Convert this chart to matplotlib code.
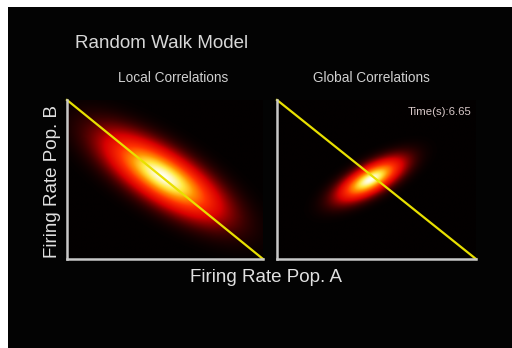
import numpy as np
import matplotlib
matplotlib.use('Agg')
import matplotlib.pyplot as plt
from matplotlib.patches import Rectangle
from matplotlib.colors import LinearSegmentedColormap

plt.rcParams['font.family'] = ['Liberation Sans', 'DejaVu Sans']

# panel data: gaussian blobs in normalised firing-rate space
panel_titles = ["Local Correlations", "Global Correlations"]
centre_a = [0.49, 0.47]
centre_b = [0.52, 0.50]
sigma_major = [0.23, 0.12]
sigma_minor = [0.09, 0.05]
angle_deg = [-40, 37]
time_label = "Time(s):6.65"

W, H = 512, 348
fig = plt.figure(figsize=(W / 100, H / 100), dpi=100)
fig.patch.set_facecolor("#030303")
# thin white strips at top and left of the video frame
fig.patches.append(Rectangle((0, 1 - 7 / H), 1, 7 / H, transform=fig.transFigure,
                             facecolor="white", edgecolor="none", zorder=-1))
fig.patches.append(Rectangle((0, 0), 8 / W, 1, transform=fig.transFigure,
                             facecolor="white", edgecolor="none", zorder=-1))

heat = LinearSegmentedColormap.from_list(
    "heat", [(0.0, "#030000"), (0.08, "#3c0000"), (0.28, "#d80000"), (0.5, "#ff3000"),
             (0.7, "#ff9000"), (0.86, "#ffe840"), (1.0, "#fffff0")])

boxes = [(67, 263), (277, 476)]
title_x = [173, 371]
top_px, bot_px = 100, 259

xs = np.linspace(0, 1, 300)
gx, gy = np.meshgrid(xs, xs)

for i, (x0, x1) in enumerate(boxes):
    ax = fig.add_axes([x0 / W, (H - bot_px) / H, (x1 - x0) / W, (bot_px - top_px) / H])
    ax.set_facecolor("none")
    th = np.deg2rad(angle_deg[i])
    dx = gx - centre_a[i]
    dy = gy - centre_b[i]
    u = dx * np.cos(th) + dy * np.sin(th)
    v = -dx * np.sin(th) + dy * np.cos(th)
    z = np.exp(-0.5 * ((u / sigma_major[i]) ** 2 + (v / sigma_minor[i]) ** 2))
    ax.imshow(z, extent=(0, 1, 0, 1), origin="lower", cmap=heat, vmin=0, vmax=1.0,
              aspect="auto", interpolation="bilinear", zorder=1)
    ax.plot([0, 1], [1, 0], color="#e8e000", lw=1.6, zorder=3, clip_on=False)
    ax.set_xlim(0, 1)
    ax.set_ylim(0, 1)
    ax.set_xticks([])
    ax.set_yticks([])
    for s in ["top", "right"]:
        ax.spines[s].set_visible(False)
    for s in ["left", "bottom"]:
        ax.spines[s].set_color("#c8c8c8")
        ax.spines[s].set_linewidth(1.8)
        ax.spines[s].set_zorder(4)
    fig.text(title_x[i] / W, 1 - 78 / H, panel_titles[i], color="#d0d0d0", fontsize=9.8,
             ha="center", va="center")

fig.text(75 / W, 1 - 43 / H, "Random Walk Model", color="#d8d8d8", fontsize=13.5,
         ha="left", va="center")
fig.text(471 / W, 1 - 112 / H, time_label, color="#d8c8c8", fontsize=8.2,
         ha="right", va="center")
fig.text(266 / W, 1 - 277 / H, "Firing Rate Pop. A", color="#e0e0e0", fontsize=13.5,
         ha="center", va="center")
fig.text(53 / W, 1 - 182 / H, "Firing Rate Pop. B", color="#e0e0e0", fontsize=13.5,
         ha="center", va="center", rotation=90)

fig.savefig("out.png", dpi=100, facecolor=fig.get_facecolor())
